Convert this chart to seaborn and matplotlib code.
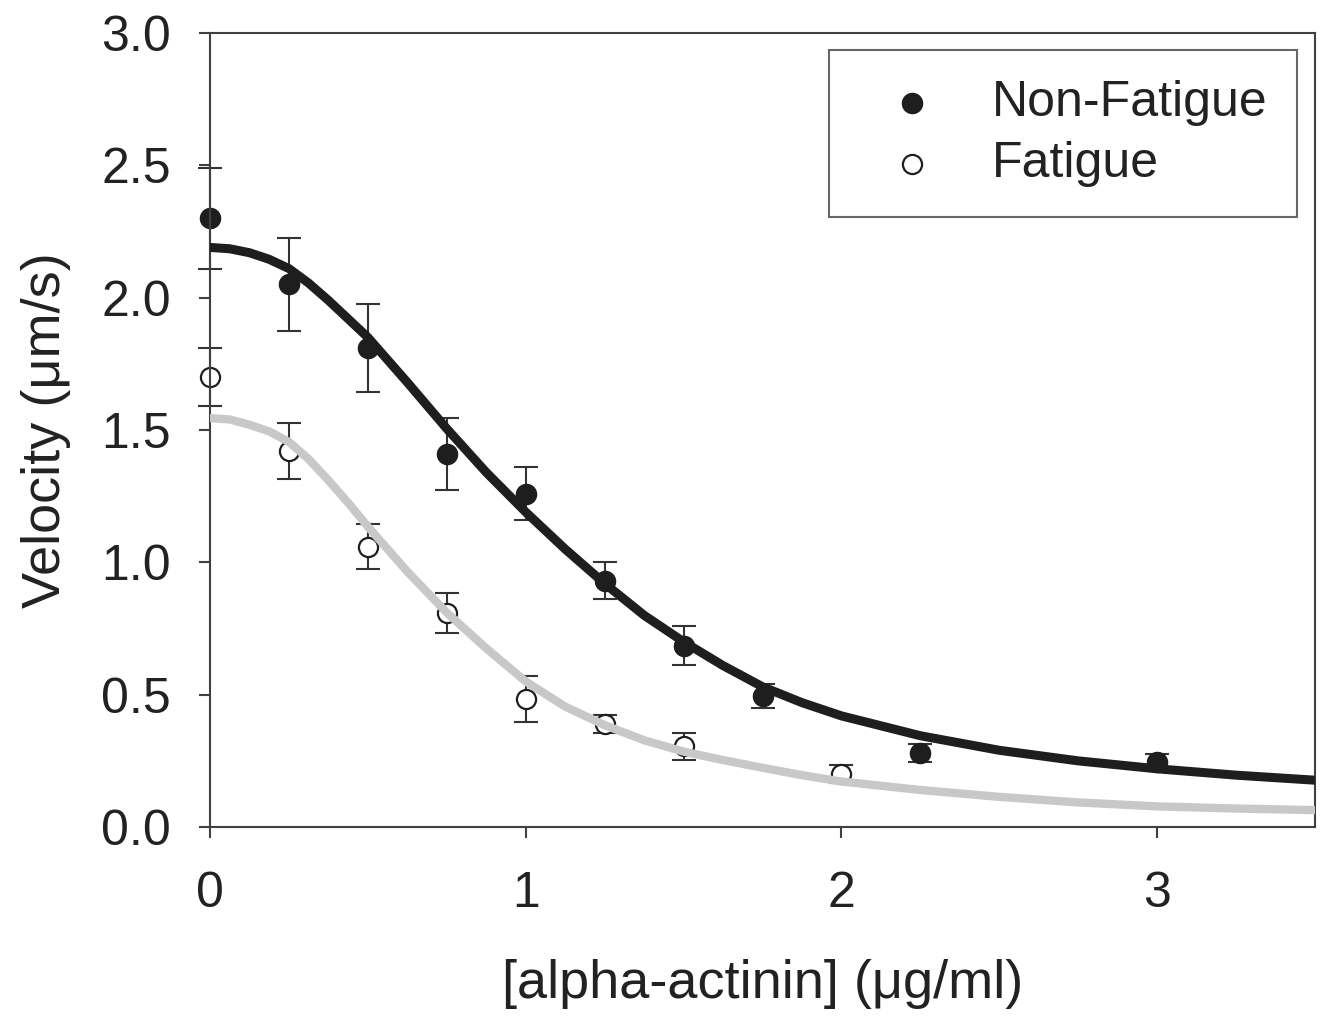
import numpy as np
import pandas as pd
import seaborn as sns
import matplotlib.pyplot as plt

# measured points (mean +/- error)
conc_nf = [0, 0.25, 0.5, 0.75, 1.0, 1.25, 1.5, 1.75, 2.25, 3.0]
vel_nf = [2.30, 2.05, 1.81, 1.41, 1.26, 0.93, 0.685, 0.495, 0.28, 0.245]
err_nf = [0.19, 0.175, 0.165, 0.135, 0.10, 0.07, 0.073, 0.045, 0.035, 0.03]

conc_f = [0, 0.25, 0.5, 0.75, 1.0, 1.25, 1.5, 2.0]
vel_f = [1.70, 1.42, 1.06, 0.81, 0.485, 0.39, 0.305, 0.20]
err_f = [0.11, 0.105, 0.085, 0.075, 0.087, 0.035, 0.05, 0.035]

# fitted curves
fit_x = [0, 0.0625, 0.125, 0.1875, 0.25, 0.3125, 0.375, 0.4375, 0.5, 0.625, 0.75,
         0.875, 1.0, 1.125, 1.25, 1.375, 1.5, 1.625, 1.75, 1.875, 2.0, 2.25, 2.5,
         2.75, 3.0, 3.25, 3.5]
fit_nf = [2.19, 2.185, 2.17, 2.145, 2.11, 2.055, 1.99, 1.92, 1.85, 1.68, 1.505,
          1.34, 1.19, 1.05, 0.92, 0.80, 0.70, 0.61, 0.53, 0.47, 0.42, 0.345, 0.29,
          0.25, 0.22, 0.196, 0.177]
fit_f = [1.545, 1.54, 1.52, 1.495, 1.455, 1.39, 1.31, 1.225, 1.135, 0.965, 0.81,
         0.675, 0.55, 0.455, 0.385, 0.328, 0.285, 0.253, 0.224, 0.196, 0.172, 0.14,
         0.114, 0.093, 0.078, 0.07, 0.064]

pts_nf = pd.DataFrame({"x": conc_nf, "y": vel_nf})
pts_f = pd.DataFrame({"x": conc_f, "y": vel_f})
fit = pd.DataFrame({"x": fit_x, "nf": fit_nf, "f": fit_f})

sns.set_style("ticks")
plt.rcParams["font.family"] = ["Liberation Sans", "DejaVu Sans"]
axcol = "#404040"

fig = plt.figure(figsize=(13.21, 10.27), dpi=100)
ax = fig.add_axes([0.159, 0.1947, 0.8365, 0.7731])

for cx, vy, ey in [(conc_nf, vel_nf, err_nf), (conc_f, vel_f, err_f)]:
    eb = ax.errorbar(cx, vy, yerr=ey, fmt="none", ecolor="#333333",
                     elinewidth=1.5, capsize=8.5, capthick=1.5, zorder=1)
    for art in eb.lines[1] + eb.lines[2]:
        art.set_clip_on(False)

sns.scatterplot(data=pts_nf, x="x", y="y", ax=ax, s=210, color="#1e1e1e",
                edgecolor="#1e1e1e", linewidth=1, label="Non-Fatigue", zorder=2,
                clip_on=False)
sns.scatterplot(data=pts_f, x="x", y="y", ax=ax, s=190, color="white",
                edgecolor="#1e1e1e", linewidth=1.6, label="Fatigue", zorder=2,
                clip_on=False)

sns.lineplot(data=fit, x="x", y="nf", ax=ax, color="#1e1e1e", linewidth=6.5,
             legend=False, zorder=3, solid_capstyle="round")
sns.lineplot(data=fit, x="x", y="f", ax=ax, color="#c8c8c8", linewidth=6,
             legend=False, zorder=3, solid_capstyle="round")

ax.set_xlim(0, 3.5)
ax.set_ylim(0, 3.0)
ax.set_xticks([0, 1, 2, 3])
ax.set_xticklabels(["0", "1", "2", "3"])
ax.set_yticks([0, 0.5, 1.0, 1.5, 2.0, 2.5, 3.0])
ax.set_yticklabels(["0.0", "0.5", "1.0", "1.5", "2.0", "2.5", "3.0"])
ax.tick_params(axis="both", labelsize=36, colors=axcol, labelcolor="#222222",
               length=8, width=1.5, direction="out")
ax.tick_params(axis="y", pad=20)
ax.tick_params(axis="x", pad=24)
for sp in ax.spines.values():
    sp.set_visible(True)
    sp.set_color(axcol)
    sp.set_linewidth(1.5)

lab_font = dict(size=39, color="#222222")
ax.set_xlabel("[alpha-actinin] (\u03bcg/ml)", labelpad=30, **lab_font)
ax.set_ylabel("Velocity (\u03bcm/s)", labelpad=22, **lab_font)

leg = ax.legend(loc="upper right", bbox_to_anchor=(0.984, 0.979), borderaxespad=0,
                fontsize=36, frameon=True, fancybox=False, edgecolor=axcol,
                borderpad=0.6, handlelength=2.1, handletextpad=0.55,
                labelspacing=0.3, markerscale=1.0)
leg.get_frame().set_linewidth(1.5)
for t in leg.get_texts():
    t.set_color("#222222")

fig.savefig("out.png", dpi=100)
